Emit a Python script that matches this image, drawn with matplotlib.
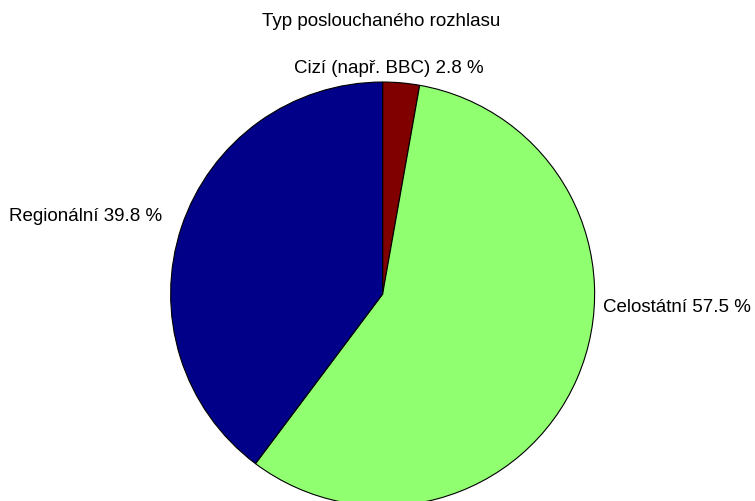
import matplotlib
matplotlib.use("Agg")
import matplotlib.pyplot as plt

# data
labels = ["Cizí (např. BBC)", "Celostátní", "Regionální"]
shares = [2.8, 57.5, 39.8]
colors = ["#800000", "#90ff70", "#000088"]
title = "Typ poslouchaného rozhlasu"

plt.rcParams["font.family"] = ["Liberation Sans", "DejaVu Sans"]

fig = plt.figure(figsize=(7.55, 5.02), dpi=100)
ax = fig.add_axes([0.226, -0.010, 0.5616, 0.8446])

wedges, texts = ax.pie(shares, colors=colors, startangle=90, counterclock=False,
                       labels=["%s %.1f %%" % (l, s) for l, s in zip(labels, shares)],
                       wedgeprops=dict(edgecolor="black", linewidth=0.8),
                       textprops=dict(fontsize=13.5))
ax.set_xlim(-1, 1)
ax.set_ylim(-1, 1)

# label placement like the original (matlab style)
texts[0].set_position((0.03, 1.07)); texts[0].set_ha("center"); texts[0].set_va("center")
texts[1].set_position((1.04, -0.06)); texts[1].set_ha("left"); texts[1].set_va("center")
texts[2].set_position((-1.04, 0.37)); texts[2].set_ha("right"); texts[2].set_va("center")

fig.text(0.505, 0.958, title, ha="center", va="center", fontsize=13.5)

fig.savefig("out.png", dpi=100)
